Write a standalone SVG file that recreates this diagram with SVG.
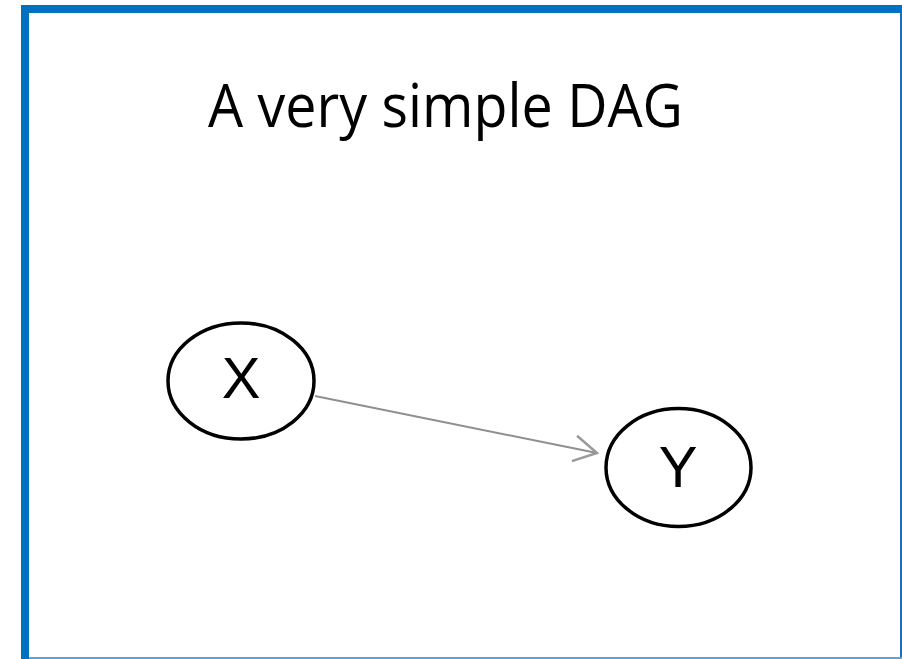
<svg xmlns="http://www.w3.org/2000/svg" width="902" height="659" viewBox="0 0 902 659">
  <style>
    .node { fill: #ffffff; stroke: #000000; stroke-width: 3.5; }
    .label { font-family: "Liberation Sans", Arial, sans-serif; font-size: 58px; fill: #000000; text-anchor: middle; }
    .title { font-family: "Open Sans", "Liberation Sans", sans-serif; font-size: 60px; fill: #000000; }
    .edge { fill: none; stroke: #8f8f8f; stroke-width: 2; }
  </style>
  <defs>
    <marker id="open-arrow" viewBox="0 0 28 32" refX="26" refY="16" markerWidth="28" markerHeight="32" markerUnits="userSpaceOnUse" orient="auto">
      <path d="M3,3 L26,16 L3,29" fill="none" stroke="#9a9a9a" stroke-width="2.5"/>
    </marker>
  </defs>
  <rect x="0" y="0" width="902" height="659" fill="#ffffff"/>
  <!-- frame -->
  <rect x="21" y="5" width="881" height="8" fill="#0070C0"/>
  <rect x="21" y="5" width="8" height="654" fill="#0070C0"/>
  <rect x="900" y="13" width="2" height="646" fill="#1F6FB5"/>
  <rect x="29" y="657" width="873" height="2" fill="#5BA3DB"/>

  <text class="title" x="208" y="127" textLength="475" lengthAdjust="spacingAndGlyphs">A very simple DAG</text>

  <g id="connectors">
    <line class="edge" x1="315" y1="396" x2="597" y2="453" marker-end="url(#open-arrow)"/>
  </g>

  <g id="node-x">
    <ellipse class="node" cx="241" cy="381" rx="73" ry="58"/>
    <text class="label" x="241" y="398">X</text>
  </g>
  <g id="node-y">
    <ellipse class="node" cx="678.5" cy="467.5" rx="72.5" ry="59"/>
    <text class="label" x="678" y="487">Y</text>
  </g>
</svg>
